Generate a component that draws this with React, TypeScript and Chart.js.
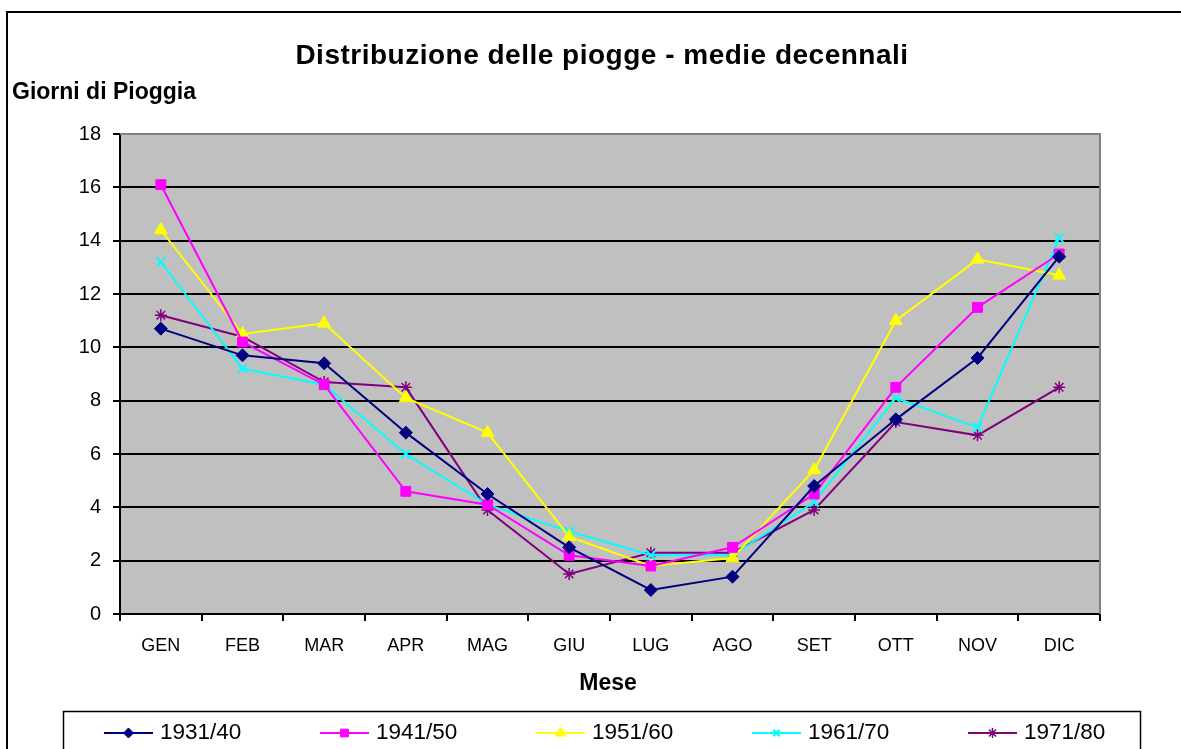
import React, { useEffect, useRef } from "react";
import { Chart, registerables } from "chart.js";
import { drawPoint } from "chart.js/helpers";

Chart.register(...registerables);

const months = ["GEN", "FEB", "MAR", "APR", "MAG", "GIU", "LUG", "AGO", "SET", "OTT", "NOV", "DIC"];
const s1931 = [10.7, 9.7, 9.4, 6.8, 4.5, 2.5, 0.9, 1.4, 4.8, 7.3, 9.6, 13.4];
const s1941 = [16.1, 10.2, 8.6, 4.6, 4.1, 2.2, 1.8, 2.5, 4.5, 8.5, 11.5, 13.5];
const s1951 = [14.4, 10.5, 10.9, 8.1, 6.8, 2.9, 1.8, 2.1, 5.4, 11.0, 13.3, 12.7];
const s1961 = [13.2, 9.2, 8.6, 6.0, 4.1, 3.1, 2.2, 2.2, 4.2, 8.1, 7.0, 14.1];
const s1971 = [11.2, 10.4, 8.7, 8.5, 3.9, 1.5, 2.3, 2.3, 3.9, 7.2, 6.7, 8.5];
const seriesNames = ["1931/40", "1941/50", "1951/60", "1961/70", "1971/80"];
const yTicks = [0, 2, 4, 6, 8, 10, 12, 14, 16, 18];

const titleText = "Distribuzione delle piogge - medie decennali";
const yTitleText = "Giorni di Pioggia";
const xTitleText = "Mese";

const FONT = '"Liberation Sans", Arial, sans-serif';

const styles = [
  { color: "#000080", pointStyle: "rectRot", radius: 6.5, bw: 1, lr: 5 },
  { color: "#FF00FF", pointStyle: "rect", radius: 7, bw: 1, lr: 5.5 },
  { color: "#FFFF00", pointStyle: "triangle", radius: 7.5, bw: 1, lr: 6 },
  { color: "#00FFFF", pointStyle: "crossRot", radius: 6.5, bw: 2, lr: 4.5 },
  { color: "#800080", pointStyle: "star", radius: 6, bw: 1.5, lr: 5 },
];

const decorPlugin = {
  id: "decor",
  beforeDraw(chart: any) {
    const ctx = chart.ctx;
    const a = chart.chartArea;
    ctx.save();
    ctx.fillStyle = "#FFFFFF";
    ctx.fillRect(0, 0, chart.width, chart.height);
    ctx.strokeStyle = "#000000";
    ctx.lineWidth = 2;
    ctx.strokeRect(7, 12, 1300, 900);
    ctx.fillStyle = "#C0C0C0";
    ctx.fillRect(a.left, a.top, a.right - a.left, a.bottom - a.top);
    ctx.restore();
  },
  afterDraw(chart: any) {
    const ctx = chart.ctx;
    const a = chart.chartArea;
    ctx.save();
    ctx.strokeStyle = "#808080";
    ctx.lineWidth = 2;
    ctx.beginPath();
    ctx.moveTo(a.left, a.top);
    ctx.lineTo(a.right, a.top);
    ctx.lineTo(a.right, a.bottom);
    ctx.stroke();

    ctx.fillStyle = "#000000";
    ctx.textBaseline = "middle";
    ctx.textAlign = "center";
    ctx.font = `bold 28px ${FONT}`;
    (ctx as any).letterSpacing = "0.5px";
    ctx.fillText(titleText, 602, 56);
    (ctx as any).letterSpacing = "0px";
    ctx.font = `bold 23px ${FONT}`;
    ctx.fillText(xTitleText, 608, 684);
    ctx.textAlign = "left";
    ctx.fillText(yTitleText, 12, 93);

    // legend
    ctx.strokeStyle = "#000000";
    ctx.lineWidth = 1.5;
    ctx.strokeRect(63.5, 711.5, 1077, 60);
    const ly = 733;
    chart.data.datasets.forEach((ds: any, i: number) => {
      const x0 = 104 + i * 216;
      const st = styles[i];
      ctx.strokeStyle = st.color;
      ctx.lineWidth = 2;
      ctx.beginPath();
      ctx.moveTo(x0, ly);
      ctx.lineTo(x0 + 49, ly);
      ctx.stroke();
      ctx.fillStyle = st.color;
      ctx.strokeStyle = st.color;
      ctx.lineWidth = st.bw;
      drawPoint(ctx, { pointStyle: st.pointStyle, radius: st.lr, rotation: 0, borderWidth: st.bw }, x0 + 24.5, ly);
      ctx.fillStyle = "#000000";
      ctx.font = `22.5px ${FONT}`;
      ctx.textAlign = "left";
      ctx.fillText(ds.label, x0 + 56, ly);
    });
    ctx.restore();
  },
};

export default function App() {
  const ref = useRef<HTMLCanvasElement | null>(null);
  useEffect(() => {
    if (!ref.current) return;
    const data = [s1931, s1941, s1951, s1961, s1971];
    const chart = new Chart(ref.current, {
      type: "line",
      data: {
        labels: months,
        datasets: data.map((d, i) => ({
          label: seriesNames[i],
          data: d,
          borderColor: styles[i].color,
          backgroundColor: styles[i].color,
          pointBackgroundColor: styles[i].color,
          pointBorderColor: styles[i].color,
          pointStyle: styles[i].pointStyle as any,
          pointRadius: styles[i].radius,
          pointBorderWidth: styles[i].bw,
          borderWidth: 2,
          tension: 0,
          fill: false,
        })),
      },
      options: {
        responsive: false,
        animation: false,
        devicePixelRatio: 1,
        layout: { padding: { top: 134, left: 0, right: 81, bottom: 0 } },
        plugins: {
          legend: { display: false },
          title: { display: false },
          tooltip: { enabled: false },
        },
        scales: {
          x: {
            type: "category",
            offset: true,
            afterFit: (s: any) => {
              s.height = 135;
            },
            grid: {
              offset: true,
              drawOnChartArea: false,
              drawTicks: true,
              tickLength: 7,
              color: "#000000",
              lineWidth: 2,
            },
            border: { display: true, color: "#000000", width: 2 },
            ticks: {
              color: "#000000",
              font: { family: FONT, size: 18 },
              padding: 14,
              maxRotation: 0,
            },
          },
          y: {
            min: 0,
            max: 18,
            afterFit: (s: any) => {
              s.width = 120;
            },
            afterBuildTicks: (s: any) => {
              s.ticks = yTicks.map((v) => ({ value: v }));
            },
            grid: {
              color: "#000000",
              lineWidth: 2,
              drawTicks: true,
              tickLength: 7,
            },
            border: { display: true, color: "#000000", width: 2 },
            ticks: {
              color: "#000000",
              font: { family: FONT, size: 20 },
              padding: 12,
              stepSize: 2,
            },
          },
        },
      },
      plugins: [decorPlugin],
    });
    return () => chart.destroy();
  }, []);
  return (
    <canvas
      ref={ref}
      width={1181}
      height={749}
      style={{ position: "absolute", left: 0, top: 0, width: 1181, height: 749, display: "block" }}
    />
  );
}
